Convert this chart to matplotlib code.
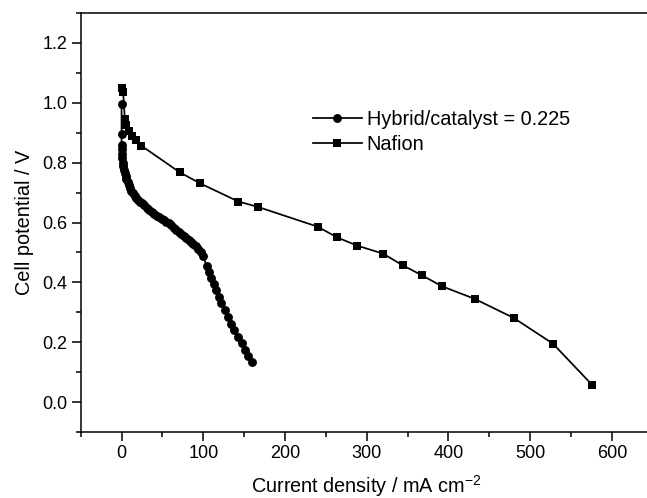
import matplotlib
matplotlib.use("Agg")
import matplotlib.pyplot as plt
from matplotlib.ticker import MultipleLocator

plt.rcParams['font.family'] = ['Liberation Sans', 'DejaVu Sans']

# Polarization curves: current density (mA cm^-2) vs cell potential (V)
hybrid_current = [0, 0, 0, 0.3, 0.6, 1, 1.5, 2, 3, 4, 5, 6, 7.5, 9, 10.5, 12, 14, 16,
                  18, 20, 22, 25, 28, 31, 34, 37, 40, 43, 46, 49, 52, 55, 58, 61, 64,
                  67, 70, 73, 76, 79, 82, 85, 88, 91, 94, 97, 100, 104, 107, 110, 113,
                  116, 119, 122, 126, 130, 134, 138, 142, 147, 151, 155, 160]
hybrid_potential = [0.996, 0.895, 0.86, 0.845, 0.83, 0.815, 0.80, 0.79, 0.775, 0.765,
                    0.755, 0.745, 0.735, 0.725, 0.715, 0.705, 0.697, 0.69, 0.683, 0.676,
                    0.67, 0.664, 0.657, 0.65, 0.643, 0.636, 0.628, 0.622, 0.617, 0.612,
                    0.607, 0.602, 0.597, 0.59, 0.583, 0.576, 0.569, 0.562, 0.555, 0.548,
                    0.541, 0.534, 0.527, 0.52, 0.511, 0.50, 0.487, 0.455, 0.435, 0.415,
                    0.395, 0.373, 0.352, 0.33, 0.308, 0.285, 0.262, 0.24, 0.218, 0.196,
                    0.175, 0.155, 0.135]

nafion_current = [0, 2, 4, 6, 9, 13, 18, 24, 71, 96, 143, 167, 240, 264, 288, 320,
                  344, 368, 392, 432, 480, 528, 576]
nafion_potential = [1.048, 1.035, 0.945, 0.925, 0.905, 0.89, 0.875, 0.857, 0.768, 0.731,
                    0.67, 0.652, 0.586, 0.55, 0.523, 0.496, 0.457, 0.423, 0.387, 0.345,
                    0.281, 0.195, 0.057]

series_labels = ["Hybrid/catalyst = 0.225", "Nafion"]
x_ticks = [0, 100, 200, 300, 400, 500, 600]
y_ticks = [0.0, 0.2, 0.4, 0.6, 0.8, 1.0, 1.2]

fig = plt.figure(figsize=(6.47, 4.98), dpi=100)
ax = fig.add_axes([80.7 / 647, 66 / 498, 572 / 647, 419 / 498])

ax.plot(hybrid_current, hybrid_potential, color='black', lw=1.25, marker='o',
        markersize=6.4, markeredgewidth=0, label=series_labels[0])
ax.plot(nafion_current, nafion_potential, color='black', lw=1.25, marker='s',
        markersize=6.0, markeredgewidth=0, label=series_labels[1])

ax.set_xlim(-50, 650)
ax.set_ylim(-0.1, 1.3)
ax.set_xticks(x_ticks)
ax.set_yticks(y_ticks)
ax.set_xticklabels([str(v) for v in x_ticks])
ax.set_yticklabels([f"{v:.1f}" for v in y_ticks])
ax.xaxis.set_minor_locator(MultipleLocator(50))
ax.yaxis.set_minor_locator(MultipleLocator(0.1))

for side in ('left', 'top', 'bottom', 'right'):
    ax.spines[side].set_linewidth(1.1)
ax.spines['right'].set_visible(False)

ax.tick_params(which='major', direction='out', length=6.3, width=1.1,
               labelsize=13, pad=3.2, top=False, right=False)
ax.tick_params(which='minor', direction='out', length=3.6, width=1.1,
               top=False, right=False)

ax.set_xlabel("Current density / mA cm$^{\\mathregular{-2}}$", fontsize=14.3, labelpad=7.5)
ax.set_ylabel("Cell potential / V", fontsize=14.3, labelpad=6)

ax.legend(loc='upper left', bbox_to_anchor=(0.406, 0.769), frameon=False,
          fontsize=14.3, handlelength=2.47, handletextpad=0.23,
          labelspacing=0.3, borderaxespad=0, borderpad=0)

fig.savefig("out.png", dpi=100)
